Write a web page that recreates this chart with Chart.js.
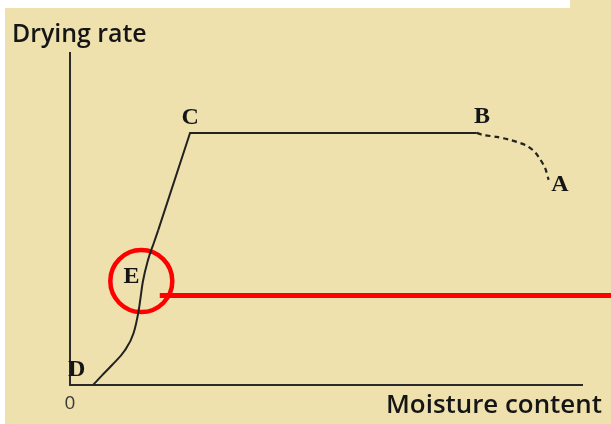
<!DOCTYPE html>
<html>
<head>
<meta charset="utf-8">
<script src="https://cdn.jsdelivr.net/npm/chart.js@4.4.0/dist/chart.umd.min.js"></script>
<style>
  body { margin: 0; background: #ffffff; }
  #wrap { width: 611px; height: 424px; }
</style>
</head>
<body>
<div id="wrap"><canvas id="drying_chart" width="611" height="424"></canvas></div>
<script>
// lower curve D -> E (moisture, rate)
const riseX = [4.5, 6.2, 8.2, 10.6, 12.4, 13.4, 14.2, 15.2, 16.3, 17.2];
const riseY = [0, 2.8, 6.0, 10.2, 15.6, 22.5, 31.0, 37.5, 42.5, 46.5];

// steep line up to C, then constant rate to B
const constX = [17.2, 23.4, 79.3];
const constY = [46.5, 75.7, 75.7];

// falling part B -> A (dashed)
const fallX = [79.3, 80.5, 83.2, 85.8, 87.7, 89.1, 90.6, 91.6, 92.6, 93.3];
const fallY = [75.7, 75.1, 74.5, 73.6, 72.7, 71.8, 70.0, 67.9, 65.2, 61.6];

// point letters
const pointNames = ['A', 'B', 'C', 'D', 'E'];
const pointX = [95.5, 80.3, 23.4, 1.3, 12.0];
const pointY = [60.1, 80.6, 80.2, 4.5, 32.6];

// red highlight: ring round E and a pointer line
const ringX = [13.9];
const ringY = [31.2];
const pointerX = [17.5, 105.5];
const pointerY = [26.9, 26.9];

const xTitle = 'Moisture content';
const yTitle = 'Drying rate';
const tickLabels = ['0'];

const toPoints = (xs, ys) => xs.map((x, i) => ({ x: x, y: ys[i] }));

const backdrop = {
    id: 'backdrop',
    beforeDraw(chart) {
        const c = chart.ctx;
        c.save();
        c.fillStyle = '#eee1ae';
        c.fillRect(0, 0, chart.width, chart.height);
        c.fillStyle = '#ffffff';
        c.fillRect(0, 0, 5, chart.height);
        c.fillRect(0, 0, 570, 8);
        c.restore();
    }
};

const axesAndText = {
    id: 'axesAndText',
    beforeDatasetsDraw(chart) {
        const c = chart.ctx;
        const xs = chart.scales.x, ys = chart.scales.y;
        const x0 = xs.getPixelForValue(0), y0 = ys.getPixelForValue(0);
        c.save();
        c.strokeStyle = '#2a2a2a';
        c.lineWidth = 2;
        c.beginPath();
        c.moveTo(x0, ys.getPixelForValue(100));
        c.lineTo(x0, y0);
        c.lineTo(xs.getPixelForValue(100), y0);
        c.stroke();
        c.restore();
    },
    afterDatasetsDraw(chart) {
        const c = chart.ctx;
        const xs = chart.scales.x, ys = chart.scales.y;
        const x0 = xs.getPixelForValue(0), y0 = ys.getPixelForValue(0);
        c.save();
        c.fillStyle = '#151515';
        c.textBaseline = 'middle';
        c.textAlign = 'center';
        c.font = 'bold 24px "Liberation Serif"';
        pointNames.forEach((n, i) => {
            c.fillText(n, xs.getPixelForValue(pointX[i]), ys.getPixelForValue(pointY[i]));
        });

        // axis titles, sized to the widths seen in the picture
        c.textAlign = 'left';
        c.textBaseline = 'alphabetic';
        c.font = '600 24px "Open Sans"';
        let w = c.measureText(yTitle).width;
        c.font = '600 ' + (24 * 135 / w).toFixed(1) + 'px "Open Sans"';
        c.fillText(yTitle, 12, 42);

        w = c.measureText(xTitle).width;
        c.font = '600 24px "Open Sans"';
        w = c.measureText(xTitle).width;
        c.font = '600 ' + (24 * 216 / w).toFixed(1) + 'px "Open Sans"';
        c.fillText(xTitle, 386, 413);

        c.fillStyle = '#3a3a3a';
        c.textAlign = 'center';
        c.font = '19px "Open Sans"';
        c.fillText(tickLabels[0], x0, y0 + 24);
        c.restore();
    }
};

const ctx = document.getElementById('drying_chart').getContext('2d');

new Chart(ctx, {
    type: 'scatter',
    data: {
        datasets: [
            {
                data: toPoints(riseX, riseY),
                showLine: true,
                borderColor: '#222222',
                borderWidth: 2,
                pointRadius: 0,
                cubicInterpolationMode: 'monotone'
            },
            {
                data: toPoints(constX, constY),
                showLine: true,
                borderColor: '#222222',
                borderWidth: 2,
                pointRadius: 0,
                tension: 0
            },
            {
                data: toPoints(fallX, fallY),
                showLine: true,
                borderColor: '#222222',
                borderWidth: 2.2,
                borderDash: [5, 4],
                pointRadius: 0,
                tension: 0.3
            },
            {
                data: toPoints(pointerX, pointerY),
                showLine: true,
                borderColor: '#ff0000',
                borderWidth: 5,
                borderCapStyle: 'butt',
                pointRadius: 0,
                clip: false
            },
            {
                data: toPoints(ringX, ringY),
                showLine: false,
                pointRadius: 31,
                pointStyle: 'circle',
                pointBorderWidth: 4.5,
                pointBorderColor: '#ff0000',
                pointBackgroundColor: 'rgba(0,0,0,0)',
                clip: false
            }
        ]
    },
    options: {
        responsive: false,
        animation: false,
        layout: { autoPadding: false, padding: { left: 70, right: 28, top: 52, bottom: 39 } },
        plugins: { legend: { display: false }, tooltip: { enabled: false } },
        scales: {
            x: { type: 'linear', min: 0, max: 100, display: false },
            y: { type: 'linear', min: 0, max: 100, display: false }
        }
    },
    plugins: [backdrop, axesAndText]
});
</script>
</body>
</html>
